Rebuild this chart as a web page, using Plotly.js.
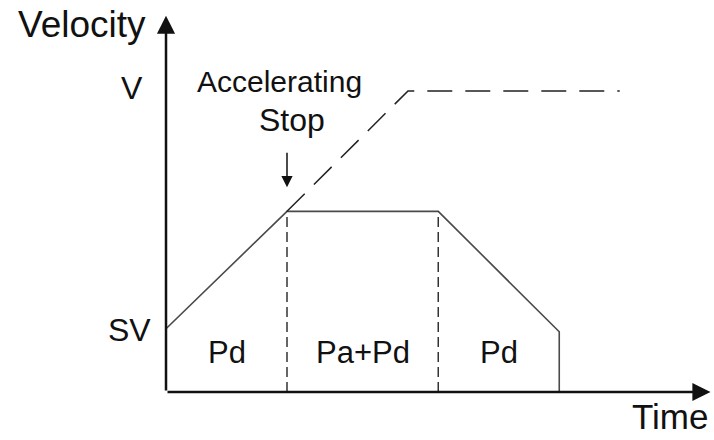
<!DOCTYPE html>
<html lang="en">
<head>
    <meta charset="UTF-8">
    <script src="https://cdn.plot.ly/plotly-3.0.1.min.js"></script>
    <style>
        html, body, #plot {
            width: 714px;
            height: 440px;
            margin: 0;
            padding: 0;
            overflow: hidden;
            background: #ffffff;
        }
    </style>
</head>
<body>
<div id="plot"></div>
<script>
    // Data (time in arbitrary units, velocity with V = 100)
    const timePts = [0, 1, 2.25, 3.25];           // start, accelerating stop, decel start, end
    const profileVel = [21, 60, 60, 20];          // SV, reached speed, reached speed, end speed
    const plannedTime = [1, 2, 3.75];             // planned accel continuing to V
    const plannedVel = [60, 100, 100];
    const segLabels = ['Pd', 'Pa+Pd', 'Pd'];
    const levelLabels = ['V', 'SV'];
    const levelValues = [101, 20.6];
    const axisEnd = {t: 4.5, v: 125};

    const FONT = 'Liberation Sans, Arial, sans-serif';
    const INK = '#111111';

    // solid profile, closing down to the time axis at the end
    const profile = {
        x: timePts.concat([timePts[3]]),
        y: profileVel.concat([0]),
        type: 'scatter',
        mode: 'lines',
        line: {color: '#4a4a4a', width: 1.6},
        hoverinfo: 'skip'
    };

    // dashed line: acceleration that would have continued up to V
    const planned = {
        x: plannedTime,
        y: plannedVel,
        type: 'scatter',
        mode: 'lines',
        line: {color: '#222222', width: 1.5, dash: '25px,13px'},
        hoverinfo: 'skip'
    };

    // dashed dividers between the phases
    const dividers = [1, 2].map(function(i) {
        return {
            x: [timePts[i], timePts[i]],
            y: [0, profileVel[i]],
            type: 'scatter',
            mode: 'lines',
            line: {color: '#333333', width: 1.5, dash: '10px,5px'},
            hoverinfo: 'skip'
        };
    });

    const annotations = [];

    // axes drawn as arrows
    annotations.push({
        x: axisEnd.t, y: 0, ax: 0, ay: 0,
        xref: 'x', yref: 'y', axref: 'x', ayref: 'y',
        showarrow: true, arrowhead: 2, arrowwidth: 2.5, arrowsize: 1.45,
        arrowcolor: INK, text: ''
    });
    annotations.push({
        x: 0, y: axisEnd.v, ax: 0, ay: 0,
        xref: 'x', yref: 'y', axref: 'x', ayref: 'y',
        showarrow: true, arrowhead: 2, arrowwidth: 2.5, arrowsize: 1.45,
        arrowcolor: INK, text: ''
    });

    // axis titles
    annotations.push({
        x: 0, y: 122, xref: 'x', yref: 'y', xanchor: 'right', yanchor: 'middle',
        xshift: -18, showarrow: false, text: 'Velocity',
        font: {family: FONT, size: 37, color: INK}
    });
    annotations.push({
        x: axisEnd.t, y: -8, xref: 'x', yref: 'y', xanchor: 'right', yanchor: 'middle',
        xshift: 0, showarrow: false, text: 'Time',
        font: {family: FONT, size: 35, color: INK}
    });

    // level labels on the velocity axis
    const levelShift = [-21, -13];
    levelLabels.forEach(function(lbl, i) {
        annotations.push({
            x: 0, y: levelValues[i], xref: 'x', yref: 'y', xanchor: 'right', yanchor: 'middle',
            xshift: levelShift[i], showarrow: false, text: lbl,
            font: {family: FONT, size: 32, color: INK}
        });
    });

    // phase labels in the middle of each segment
    segLabels.forEach(function(lbl, i) {
        annotations.push({
            x: (timePts[i] + timePts[i + 1]) / 2, y: 13, xref: 'x', yref: 'y',
            xanchor: 'center', yanchor: 'middle', showarrow: false, text: lbl,
            font: {family: FONT, size: 31, color: INK}
        });
    });

    // "Accelerating Stop" note with a small arrow
    annotations.push({
        x: 0.94, y: 103, xref: 'x', yref: 'y', xanchor: 'center', yanchor: 'middle',
        showarrow: false, text: 'Accelerating',
        font: {family: FONT, size: 30, color: INK}
    });
    annotations.push({
        x: 1.04, y: 90.5, xref: 'x', yref: 'y', xanchor: 'center', yanchor: 'middle',
        showarrow: false, text: 'Stop',
        font: {family: FONT, size: 32, color: INK}
    });
    annotations.push({
        x: timePts[1], y: 68, ax: timePts[1], ay: 80,
        xref: 'x', yref: 'y', axref: 'x', ayref: 'y',
        showarrow: true, arrowhead: 2, arrowwidth: 1.5, arrowsize: 1.5,
        arrowcolor: INK, text: ''
    });

    const layout = {
        width: 714,
        height: 440,
        margin: {l: 0, r: 0, t: 0, b: 0, pad: 0},
        paper_bgcolor: '#ffffff',
        plot_bgcolor: '#ffffff',
        showlegend: false,
        xaxis: {range: [-1.372, 4.529], visible: false, fixedrange: true},
        yaxis: {range: [-15.95, 130.2], visible: false, fixedrange: true},
        annotations: annotations
    };

    const config = {displayModeBar: false, staticPlot: true};

    Plotly.newPlot('plot', [profile, planned].concat(dividers), layout, config);
</script>
</body>
</html>
